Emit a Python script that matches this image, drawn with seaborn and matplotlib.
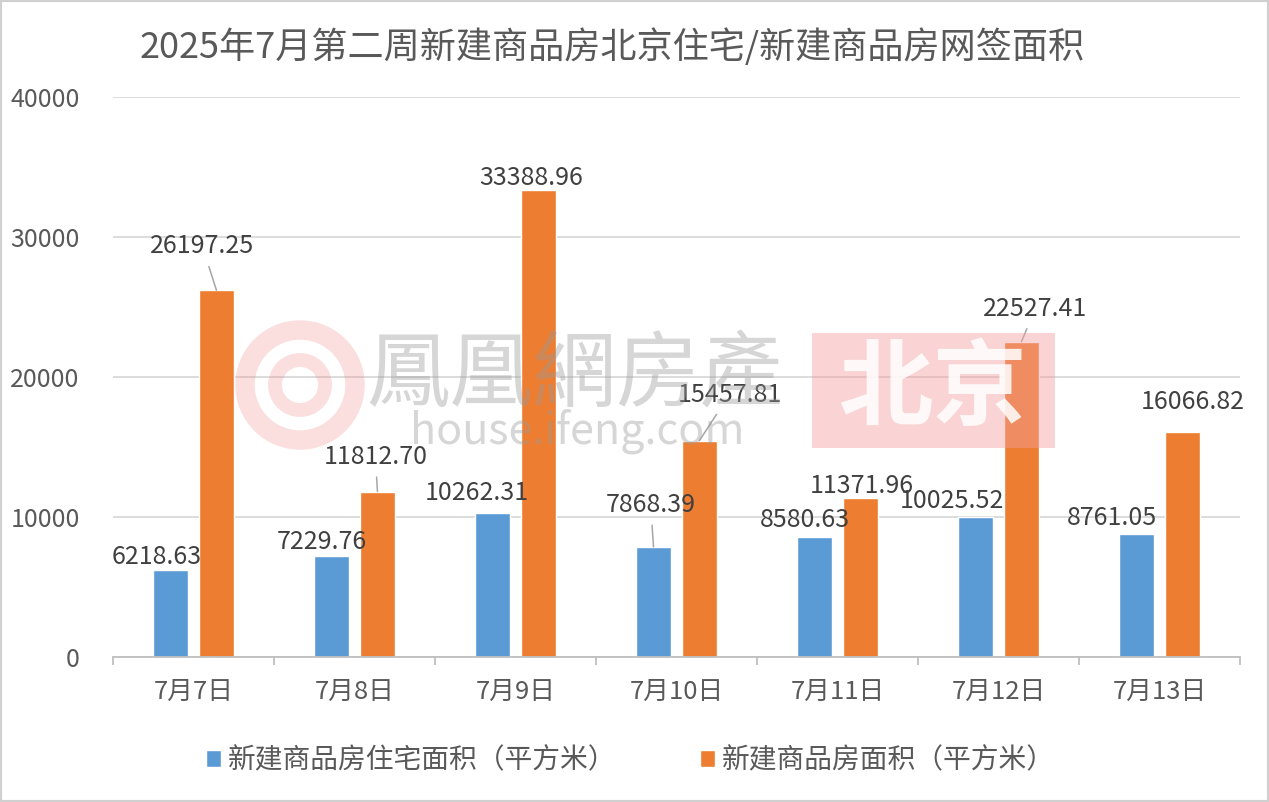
import numpy as np
import pandas as pd
import matplotlib
matplotlib.use('Agg')
import matplotlib.pyplot as plt
from matplotlib.patches import Rectangle, Circle
import seaborn as sns

# ── data ─────────────────────────────────
dates = ['7月7日', '7月8日', '7月9日', '7月10日', '7月11日', '7月12日', '7月13日']
residential = [6218.63, 7229.76, 10262.31, 7868.39, 8580.63, 10025.52, 8761.05]
total = [26197.25, 11812.70, 33388.96, 15457.81, 11371.96, 22527.41, 16066.82]
series_names = ['新建商品房住宅面积（平方米）', '新建商品房面积（平方米）']
title = '2025年7月第二周新建商品房北京住宅/新建商品房网签面积'
y_ticks = [0, 10000, 20000, 30000, 40000]

# label placement (pixel offsets of text centre from bar top) + leader lines
res_offsets = [(-14, 13), (-10, 14), (-16, 20), (-3, 42), (-10, 17), (-24, 16), (-25, 16)]
tot_offsets = [(-14, 44), (-2, 35), (-7, 12), (30, 46), (1, 12), (14, 33), (10, 30)]
res_leader = [False, False, False, True, False, False, False]
tot_leader = [True, True, False, True, False, True, False]

BLUE = '#5B9BD5'
ORANGE = '#ED7D31'

df = pd.DataFrame({
    '日期': dates * 2,
    '面积': residential + total,
    '系列': [series_names[0]] * len(dates) + [series_names[1]] * len(dates),
})

sns.set_theme(style='white')
plt.rcParams['font.family'] = ['Noto Sans CJK SC', 'DejaVu Sans']

W, H = 1269, 802
fig = plt.figure(figsize=(W / 100, H / 100), dpi=100)
ax = fig.add_axes([113 / W, 145 / H, 1127 / W, 560 / H])

sns.barplot(data=df, x='日期', y='面积', hue='系列',
            palette=[BLUE, ORANGE], saturation=1,
            width=0.57, gap=0.22, ax=ax, zorder=2)

ax.set_ylim(0, 40000)
ax.set_xlim(-0.5, len(dates) - 0.5)
ax.set_yticks(y_ticks)
ax.set_yticklabels([str(t) for t in y_ticks])
ax.set_xlabel('')
ax.set_ylabel('')
ax.yaxis.grid(True, color='#d9d9d9', lw=1.3, zorder=0)
ax.xaxis.grid(False)
ax.set_axisbelow(True)
for s in ['top', 'right', 'left']:
    ax.spines[s].set_visible(False)
ax.spines['bottom'].set_color('#bfbfbf')
ax.spines['bottom'].set_linewidth(1.3)
ax.tick_params(axis='y', length=0, pad=24, labelsize=18, labelcolor='#595959')
ax.tick_params(axis='x', which='major', length=0, pad=16, labelsize=18.5, labelcolor='#595959')
ax.set_xticks(np.arange(len(dates) + 1) - 0.5, minor=True)
ax.tick_params(axis='x', which='minor', length=6, width=1.3, color='#bfbfbf', bottom=True)

# data labels
for cont, vals, offs, leads in [(ax.containers[0], residential, res_offsets, res_leader),
                                (ax.containers[1], total, tot_offsets, tot_leader)]:
    for bar, v, (dx, dy), lead in zip(cont, vals, offs, leads):
        xc = bar.get_x() + bar.get_width() / 2
        yt = bar.get_height()
        arrow = dict(arrowstyle='-', color='#a6a6a6', lw=1.1, shrinkA=3, shrinkB=0) if lead else None
        ax.annotate(f'{v:.2f}', xy=(xc, yt), xytext=(dx, dy),
                    textcoords='offset pixels', ha='center', va='center',
                    fontsize=18, color='#404040', arrowprops=arrow, zorder=5)

# legend
handles, labels = ax.get_legend_handles_labels()
ax.legend_.remove()
fig.legend(handles, labels, loc='center', bbox_to_anchor=(0.497, 42 / H),
           ncol=2, frameon=False, fontsize=20, labelcolor='#595959',
           handlelength=0.55, handleheight=0.55, handletextpad=0.25,
           columnspacing=3.0)

# title
fig.text(612 / W, 1 - 47 / H, title, ha='center', va='center',
         fontsize=26, fontweight='light', color='#595959')

# watermark
fig.patches.append(Circle((3.0, (H - 385) / 100), 0.55, transform=fig.dpi_scale_trans,
                          facecolor='none', edgecolor='#f08080', lw=14, alpha=0.25, zorder=4))
fig.patches.append(Circle((3.0, (H - 385) / 100), 0.25, transform=fig.dpi_scale_trans,
                          facecolor='none', edgecolor='#f08080', lw=10, alpha=0.25, zorder=4))
fig.text(575 / W, 1 - 376 / H, '鳳凰網房產', ha='center', va='center',
         fontsize=60, color='#9a9a9a', alpha=0.4, zorder=4)
fig.text(577 / W, 1 - 431 / H, 'house.ifeng.com', ha='center', va='center',
         fontsize=31, color='#9a9a9a', alpha=0.4, zorder=4)
fig.patches.append(Rectangle((812 / W, (H - 448) / H), 243 / W, 115 / H,
                             transform=fig.transFigure, facecolor='#f4a0a0',
                             edgecolor='none', alpha=0.45, zorder=4))
fig.text(933 / W, 1 - 390 / H, '北京', ha='center', va='center',
         fontsize=68, fontweight='bold', color='white', alpha=0.85, zorder=5)

# frame
fig.patches.append(Rectangle((0, 0), 1, 1, transform=fig.transFigure,
                             facecolor='none', edgecolor='#d0d0d0', lw=3, zorder=6))

fig.savefig('out.png', dpi=100)
